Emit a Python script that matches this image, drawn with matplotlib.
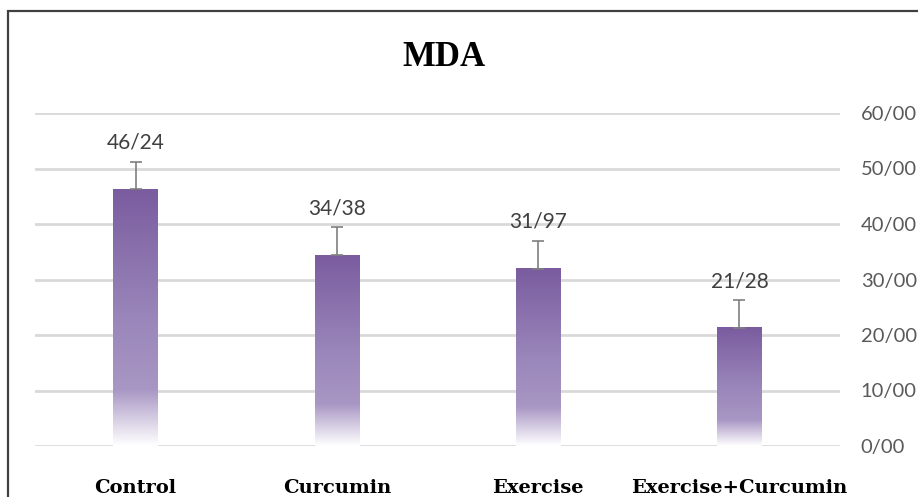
import numpy as np
import matplotlib
matplotlib.use("Agg")
import matplotlib.pyplot as plt
from matplotlib.colors import LinearSegmentedColormap
from matplotlib.patches import Rectangle

# data
groups = ["Control", "Curcumin", "Exercise", "Exercise+Curcumin"]
mda = [46.24, 34.38, 31.97, 21.28]
err = [5.0, 5.0, 5.0, 5.0]
yticks = [0, 10, 20, 30, 40, 50, 60]

W, H = 918, 497
fig = plt.figure(figsize=(W / 100, H / 100), dpi=100)

# outer frame of the pasted chart
fig.patches.append(Rectangle((8 / W, -0.1), 1.2, (H - 11) / H + 0.1, transform=fig.transFigure,
                             fill=False, edgecolor="#404040", linewidth=1.6))

ax = fig.add_axes([35 / W, (H - 446) / H, (840 - 35) / W, (446 - 113) / H])

for y in yticks:
    ax.axhline(y, color="#d9d9d9", linewidth=2, zorder=0)

# vertical gradient: dark purple at top, lighter, fading to white at the bottom
cmap = LinearSegmentedColormap.from_list("mda", [(0.0, "#ffffff"), (0.22, "#a896c4"),
                                                  (0.5, "#9a86ba"), (1.0, "#7a5c9f")])
grad = np.linspace(0, 1, 256).reshape(-1, 1)
bw = 0.22
x = np.arange(len(groups))
for xi, v, e in zip(x, mda, err):
    ax.imshow(grad, cmap=cmap, origin="lower", aspect="auto",
              extent=[xi - bw / 2, xi + bw / 2, 0, v], zorder=2)
    ax.errorbar(xi, v, yerr=[[0], [e]], color="#7f7f7f", capsize=4, elinewidth=1.2,
                capthick=1.2, zorder=3)
    ax.text(xi, v + e + 1.6, f"{v:.2f}".replace(".", "/"), ha="center", va="bottom",
            fontsize=15, color="#404040", family="Lato", zorder=4)
ax.set_xlim(-0.5, len(groups) - 0.5)
ax.set_ylim(0, 60)

ax.yaxis.tick_right()
ax.set_yticks(yticks)
ax.set_yticklabels([f"{t}/00" for t in yticks], fontsize=14.5, color="#595959", family="Lato")
ax.tick_params(axis="y", length=0, pad=15)
ax.set_xticks(x)
ax.set_xticklabels(groups, fontsize=14, fontweight="bold", family="DejaVu Serif", color="black")
ax.tick_params(axis="x", length=0, pad=24)
for s in ax.spines.values():
    s.set_visible(False)

fig.text(444 / W, (H - 57) / H, "MDA", ha="center", va="center", fontsize=25,
         fontweight="bold", family="Liberation Serif", color="black")

fig.savefig("out.png", dpi=100)
